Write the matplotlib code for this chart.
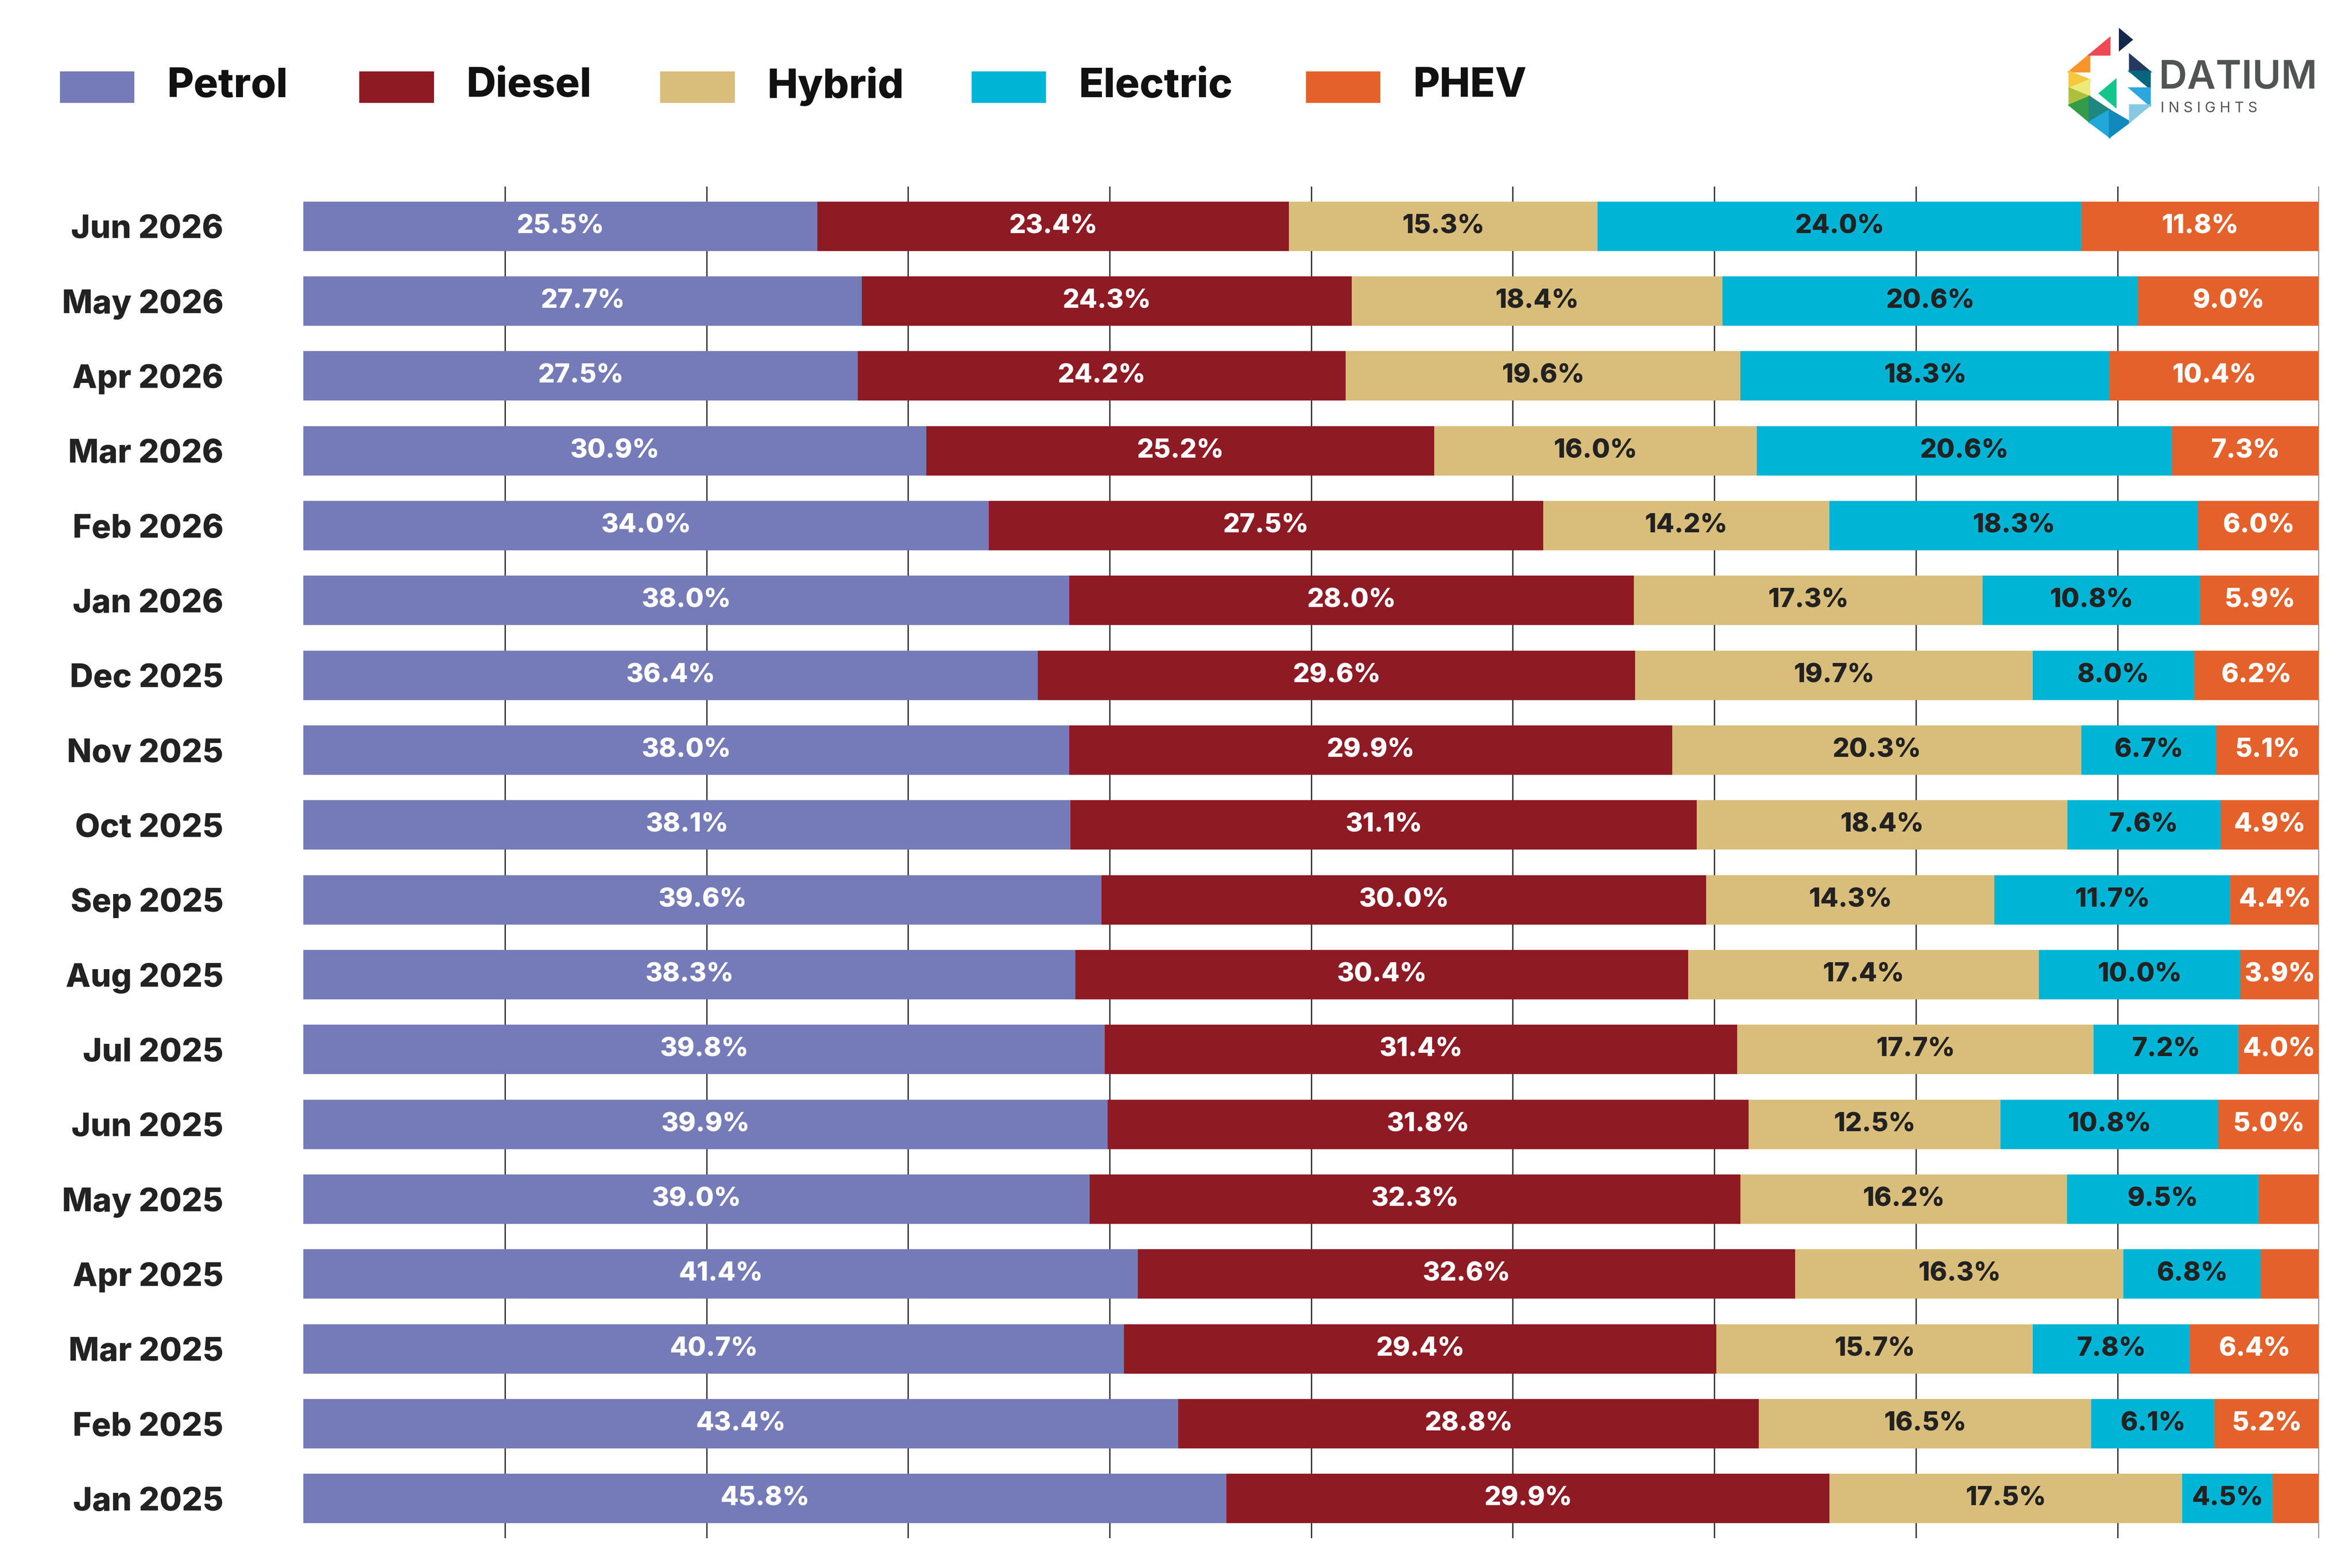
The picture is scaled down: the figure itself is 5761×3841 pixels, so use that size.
import matplotlib
matplotlib.use("Agg")
import matplotlib.pyplot as plt
from matplotlib.patches import Rectangle, Polygon
import numpy as np

months = ["Jan 2025", "Feb 2025", "Mar 2025", "Apr 2025", "May 2025", "Jun 2025",
          "Jul 2025", "Aug 2025", "Sep 2025", "Oct 2025", "Nov 2025", "Dec 2025",
          "Jan 2026", "Feb 2026", "Mar 2026", "Apr 2026", "May 2026", "Jun 2026"]
petrol = [45.8, 43.4, 40.7, 41.4, 39.0, 39.9, 39.8, 38.3, 39.6, 38.1, 38.0, 36.4,
          38.0, 34.0, 30.9, 27.5, 27.7, 25.5]
diesel = [29.9, 28.8, 29.4, 32.6, 32.3, 31.8, 31.4, 30.4, 30.0, 31.1, 29.9, 29.6,
          28.0, 27.5, 25.2, 24.2, 24.3, 23.4]
hybrid = [17.5, 16.5, 15.7, 16.3, 16.2, 12.5, 17.7, 17.4, 14.3, 18.4, 20.3, 19.7,
          17.3, 14.2, 16.0, 19.6, 18.4, 15.3]
electric = [4.5, 6.1, 7.8, 6.8, 9.5, 10.8, 7.2, 10.0, 11.7, 7.6, 6.7, 8.0,
            10.8, 18.3, 20.6, 18.3, 20.6, 24.0]
phev = [2.3, 5.2, 6.4, 2.9, 3.0, 5.0, 4.0, 3.9, 4.4, 4.9, 5.1, 6.2,
        5.9, 6.0, 7.3, 10.4, 9.0, 11.8]

series = ["Petrol", "Diesel", "Hybrid", "Electric", "PHEV"]
colors = ["#757bb8", "#8e1a24", "#d9bd7a", "#00b4d5", "#e4612b"]
text_colors = ["white", "white", "#222222", "#222222", "white"]

FONT = "Inter"

fig = plt.figure(figsize=(5761 / 300, 3841 / 300), dpi=300)
ax = fig.add_axes([0.129, 0.019, 0.857, 0.862])

data = np.array([petrol, diesel, hybrid, electric, phev])
shares = data / data.sum(axis=0) * 100
y = np.arange(len(months))
left = np.zeros(len(months))
for k in range(len(series)):
    ax.barh(y, shares[k], left=left, height=0.66, color=colors[k], zorder=2)
    for i in range(len(months)):
        if data[k, i] >= 3.5:
            ax.text(left[i] + shares[k, i] / 2, y[i], f"{data[k, i]:.1f}%",
                    ha="center", va="center", color=text_colors[k],
                    fontsize=15.5, fontweight=800, family=FONT, zorder=3)
    left += shares[k]

ax.set_xlim(0, 100)
ax.set_ylim(-0.53, len(months) - 0.47)
ax.set_xticks(np.arange(10, 101, 10))
ax.grid(axis="x", color="#333333", linewidth=0.8, zorder=0)
ax.tick_params(axis="x", length=0, labelbottom=False)
ax.tick_params(axis="y", length=0, pad=47)
ax.set_yticks(y)
ax.set_yticklabels(months, fontsize=19, fontweight=800, family=FONT, color="#222222")
for s in ax.spines.values():
    s.set_visible(False)

# legend drawn by hand along the top
leg_x = [40, 237, 435, 640, 860]
for k, name in enumerate(series):
    fig.patches.append(Rectangle((leg_x[k] / 1548, 0.935), 48 / 1548, 0.019,
                                 transform=fig.transFigure, color=colors[k]))
    fig.text((leg_x[k] + 70) / 1548, 0.945, name, fontsize=24, fontweight=800,
             family=FONT, va="center", ha="left", color="#111111")

# logo
lx, ly = 1362 / 1548, 0.949
ux, uy = 0.00856, 0.0107
tri_colors = ["#f7952a", "#ec4b54", "#f7c73c", "#eceb7a", "#adbf3f", "#349b49",
              "#1f8780", "#1fa8d8", "#1089bd", "#253a5e", "#07667f", "#2ba7de", "#85c9e3"]
pts = [
    [(0, 0.5), (1, 1.5), (1, 0.5)], [(1, 1.5), (2, 2.5), (2, 1.5)],
    [(0, 0.5), (0, -0.5), (1, 0.0)], [(0, -0.5), (1, 0.0), (1, -1.0)],
    [(0, -0.5), (0, -1.5), (1, -1.0)], [(0, -1.5), (1, -2.5), (1, -1.0)],
    [(1, -1.0), (1, -2.5), (2, -1.8)], [(1, -2.5), (2, -3.4), (2, -1.8)],
    [(2, -3.4), (2, -1.8), (3, -2.5)], [(3, 1.5), (4, 0.5), (3, 0.5)],
    [(3, 0.5), (4, 0.5), (4, -0.5)], [(3, -0.5), (4, -0.5), (4, -1.5)],
    [(3, -1.5), (4, -1.5), (3, -2.5)],
]
for c, tri in zip(tri_colors, pts):
    fig.patches.append(Polygon([(lx + px * ux, ly + py * uy) for px, py in tri],
                               closed=True, transform=fig.transFigure, color=c))
fig.patches.append(Polygon([(lx + 1.5 * ux, ly - 0.8 * uy), (lx + 2.3 * ux, ly),
                            (lx + 2.3 * ux, ly - 1.6 * uy)],
                           closed=True, transform=fig.transFigure, color="#14c68b"))
fig.patches.append(Polygon([(lx + 2.5 * ux, ly + 3.0 * uy), (lx + 3.1 * ux, ly + 2.4 * uy),
                            (lx + 2.5 * ux, ly + 1.8 * uy)],
                           closed=True, transform=fig.transFigure, color="#13294b"))
fig.text(1421 / 1548, 0.950, "DATIUM", fontsize=23, fontweight=600, family=FONT,
         color="#525453", va="center", ha="left")
fig.text(1422 / 1548, 0.931, "I N S I G H T S", fontsize=8.5, family=FONT,
         color="#525453", va="center", ha="left")

fig.savefig("out.png", dpi=300, facecolor="white")
